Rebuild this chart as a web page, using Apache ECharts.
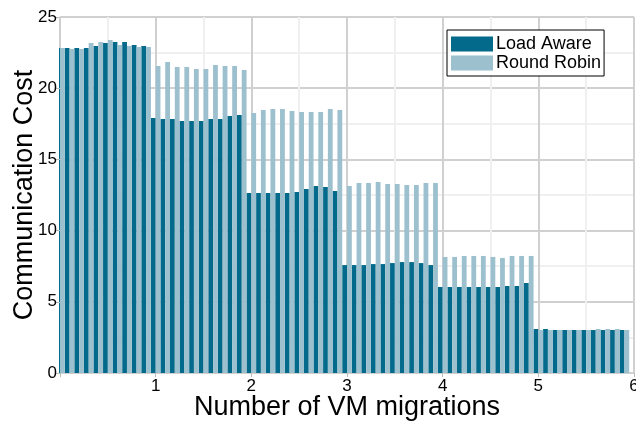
<!DOCTYPE html>
<html>
<head>
<meta charset="utf-8">
<script src="https://cdn.jsdelivr.net/npm/echarts@6/dist/echarts.min.js"></script>
<style>html,body{margin:0;padding:0;background:#fff}#c{width:636px;height:422px}</style>
</head>
<body>
<div id="c"></div>
<script>
var migrations = [
  0.0,0.1,0.2,0.3,0.4,0.5,0.6,0.7,0.8,0.9,
  1.0,1.1,1.2,1.3,1.4,1.5,1.6,1.7,1.8,1.9,
  2.0,2.1,2.2,2.3,2.4,2.5,2.6,2.7,2.8,2.9,
  3.0,3.1,3.2,3.3,3.4,3.5,3.6,3.7,3.8,3.9,
  4.0,4.1,4.2,4.3,4.4,4.5,4.6,4.7,4.8,4.9,
  5.0,5.1,5.2,5.3,5.4,5.5,5.6,5.7,5.8,5.9
];
var loadAware = [
  22.82,22.82,22.82,22.82,22.96,23.17,23.24,23.24,23.03,22.96,
  17.91,17.84,17.84,17.70,17.70,17.70,17.84,17.84,18.05,18.12,
  12.64,12.64,12.64,12.64,12.64,12.71,12.92,13.13,13.06,12.78,
  7.58,7.58,7.58,7.65,7.65,7.72,7.79,7.79,7.72,7.58,
  6.04,6.04,6.04,6.04,6.04,6.04,6.04,6.11,6.11,6.32,
  3.09,3.09,3.02,3.02,3.02,3.02,3.02,3.02,3.02,3.02
];
var roundRobin = [
  22.82,22.75,22.75,23.17,23.24,23.38,23.03,22.96,22.89,22.89,
  21.56,21.84,21.49,21.49,21.35,21.35,21.63,21.56,21.56,21.28,
  18.26,18.47,18.54,18.54,18.40,18.33,18.33,18.33,18.54,18.47,
  13.13,13.34,13.34,13.41,13.27,13.27,13.20,13.20,13.34,13.34,
  8.15,8.15,8.22,8.22,8.22,8.15,8.08,8.22,8.22,8.22,
  3.02,3.02,3.02,3.02,3.02,3.02,3.09,3.09,3.09,3.02
];
var xTicks = ['', '1', '2', '3', '4', '5', '6'];
var yTicks = ['0', '5', '10', '15', '20', '25'];

var FONT = 'Liberation Sans';
var chart = echarts.init(document.getElementById('c'), null, {renderer: 'canvas'});
function pairs(ys) { return migrations.map(function (x, i) { return [x, ys[i]]; }); }
var yBase = {type: 'value', min: 0, max: 25, interval: 5, axisLine: {show: false}};
chart.setOption({
  animation: false,
  backgroundColor: '#fff',
  textStyle: {fontFamily: FONT},
  grid: {left: 60, right: 2, top: 17, bottom: 49, containLabel: false, outerBoundsMode: 'none'},
  // white mask left of the plot area, so bars are cut at the plot edge
  graphic: [{type: 'rect', left: 0, top: 0, shape: {x: 0, y: 0, width: 59, height: 380},
    style: {fill: '#fff'}, z: 3, silent: true}],
  legend: {
    orient: 'vertical', left: 447, top: 30,
    itemWidth: 42, itemHeight: 15, itemGap: 1,
    padding: [5, 3, 4, 4],
    backgroundColor: '#fff', borderColor: '#000', borderWidth: 1, borderRadius: 0,
    icon: 'rect',
    textStyle: {fontFamily: FONT, fontSize: 18, color: '#000', padding: [0, 0, 0, -2]},
    data: ['Load Aware', 'Round Robin']
  },
  xAxis: {
    type: 'value', min: 0, max: 6, interval: 1,
    name: 'Number of VM migrations', nameLocation: 'middle', nameGap: 21, nameMoveOverlap: false,
    nameTextStyle: {fontFamily: FONT, fontSize: 27, color: '#000'},
    axisLine: {show: false},
    axisTick: {show: true, length: 4, lineStyle: {color: '#bbb', width: 1}},
    axisLabel: {fontFamily: FONT, fontSize: 17, color: '#000', margin: 5,
      formatter: function (v) { return xTicks[Math.round(v)] || ''; }},
    splitLine: {show: true, lineStyle: {color: '#d0d0d0', width: 2}},
    minorTick: {show: false, splitNumber: 2},
    minorSplitLine: {show: true, lineStyle: {color: '#f0f0f0', width: 2}}
  },
  yAxis: [
    Object.assign({}, yBase, {
      axisTick: {show: false}, axisLabel: {show: false},
      splitLine: {show: true, lineStyle: {color: '#d0d0d0', width: 2}},
      minorTick: {show: false, splitNumber: 2},
      minorSplitLine: {show: true, lineStyle: {color: '#f0f0f0', width: 2}}
    }),
    Object.assign({}, yBase, {
      position: 'left', z: 4,
      name: 'Communication Cost', nameLocation: 'middle', nameGap: 22, nameMoveOverlap: false,
      nameTextStyle: {fontFamily: FONT, fontSize: 27, color: '#000'},
      axisTick: {show: true, length: 4, lineStyle: {color: '#bbb', width: 1}},
      axisLabel: {fontFamily: FONT, fontSize: 17, color: '#000', margin: 3,
        formatter: function (v) { return yTicks[Math.round(v / 5)]; }},
      splitLine: {show: false}
    })
  ],
  series: [
    {name: 'Load Aware', type: 'bar', data: pairs(loadAware), barWidth: 4.8, barGap: '0%',
     yAxisIndex: 0, itemStyle: {color: '#036a8c'}, clip: true},
    {name: 'Round Robin', type: 'bar', data: pairs(roundRobin), barWidth: 4.8, barGap: '0%',
     yAxisIndex: 0, itemStyle: {color: '#9cc0ce'}, clip: true}
  ]
});
</script>
</body>
</html>
